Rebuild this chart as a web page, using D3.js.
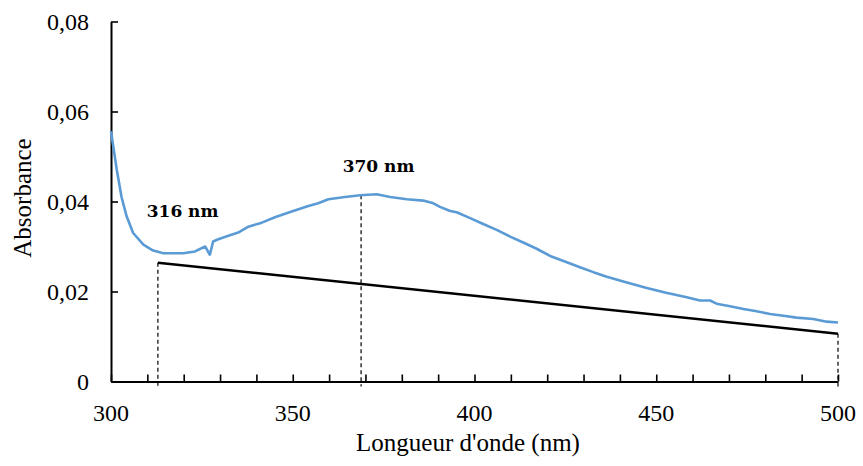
<!DOCTYPE html>
<html>
<head>
<meta charset="utf-8">
<script src="https://cdn.jsdelivr.net/npm/d3@7"></script>
<style>
  body { margin: 0; background: #fff; }
  svg { display: block; }
</style>
</head>
<body>
<script>
var w = 863;
var h = 466;

// spectre (nm, absorbance)
var wavelengths = [300, 301.6, 302.9, 304.3, 306.1, 308.9, 311.6, 314.4, 319.9, 323.1, 325.9, 326.4, 327.0, 327.2, 328.1, 329.5, 332.3, 335.0, 337.8, 341.5, 345.1, 349.7, 354.3, 357.0, 359.8, 364.4, 368.5, 373.1, 376.8, 381.4, 385.9, 388.7, 390.5, 393.3, 395.1, 398.8, 402.4, 406.1, 409.8, 413.4, 417.1, 420.8, 425.4, 429.0, 432.7, 436.4, 441.9, 447.4, 452.7, 458.4, 462.0, 464.8, 466.6, 470.3, 474.0, 477.6, 481.3, 485.0, 488.6, 493.2, 496.9, 500];
var absorbance = [0.0556, 0.0470, 0.0410, 0.0367, 0.0330, 0.0304, 0.0291, 0.0285, 0.0285, 0.0289, 0.0300, 0.0293, 0.0284, 0.0282, 0.0311, 0.0316, 0.0324, 0.0331, 0.0344, 0.0353, 0.0365, 0.0378, 0.0390, 0.0396, 0.0405, 0.0410, 0.0414, 0.0416, 0.0410, 0.0405, 0.0402, 0.0396, 0.0388, 0.0379, 0.0376, 0.0363, 0.0350, 0.0337, 0.0322, 0.0309, 0.0295, 0.0279, 0.0265, 0.0254, 0.0243, 0.0233, 0.0220, 0.0208, 0.0197, 0.0187, 0.0180, 0.0180, 0.0173, 0.0167, 0.0161, 0.0156, 0.0150, 0.0146, 0.0142, 0.0139, 0.0133, 0.0131];

// ligne de base
var baseX = [312.9, 500];
var baseY = [0.0264, 0.0106];

// repères en pointillés
var markX = [312.9, 368.8, 500];
var markY = [0.0264, 0.0414, 0.0106];
var peakLabels = [
  { text: "316 nm", x: 319.7, y: 0.0366 },
  { text: "370 nm", x: 373.6, y: 0.0466 }
];

var xTicks = [300, 350, 400, 450, 500];
var yTicks = [0, 0.02, 0.04, 0.06, 0.08];

var xScale = d3.scaleLinear().domain([300, 500]).range([111, 838]);
var yScale = d3.scaleLinear().domain([0, 0.08]).range([381.5, 21.5]);

var svg = d3.select("body").append("svg")
  .attr("width", w)
  .attr("height", h)
  .style("font-family", "'Liberation Serif', 'Times New Roman', serif");

// pointillés
svg.selectAll("line.mark")
  .data(markX)
  .enter()
  .append("line")
  .attr("class", "mark")
  .attr("x1", function(d) { return xScale(d); })
  .attr("x2", function(d) { return xScale(d); })
  .attr("y1", function(d, i) { return yScale(markY[i]); })
  .attr("y2", yScale(0) + 5)
  .attr("stroke", "#000")
  .attr("stroke-width", 1.2)
  .attr("stroke-dasharray", "4,3");

// axes
var xAxis = d3.axisBottom(xScale)
  .tickValues(d3.range(300, 501, 10))
  .tickSizeInner(-7)
  .tickSizeOuter(0)
  .tickFormat("");
svg.append("g")
  .attr("transform", "translate(0," + yScale(0) + ")")
  .call(xAxis)
  .call(function(g) {
    g.select(".domain").attr("stroke-width", 2);
    g.selectAll(".tick line").attr("stroke-width", 1.6);
  });

var yAxis = d3.axisLeft(yScale)
  .tickValues(yTicks)
  .tickSizeInner(-7)
  .tickSizeOuter(0)
  .tickFormat("");
svg.append("g")
  .attr("transform", "translate(" + xScale(300) + ",0)")
  .call(yAxis)
  .call(function(g) {
    g.select(".domain").attr("stroke-width", 2);
    g.selectAll(".tick line").attr("stroke-width", 1.6);
  });

// étiquettes des graduations
svg.selectAll("text.xt")
  .data(xTicks)
  .enter()
  .append("text")
  .attr("class", "xt")
  .attr("x", function(d) { return xScale(d); })
  .attr("y", 421)
  .attr("text-anchor", "middle")
  .attr("font-size", 24)
  .text(function(d) { return d; });

svg.selectAll("text.yt")
  .data(yTicks)
  .enter()
  .append("text")
  .attr("class", "yt")
  .attr("x", 89)
  .attr("y", function(d) { return yScale(d) + 8; })
  .attr("text-anchor", "end")
  .attr("font-size", 24)
  .text(function(d) { return d === 0 ? "0" : d.toFixed(2).replace(".", ","); });

// titres des axes
svg.append("text")
  .attr("x", 468)
  .attr("y", 451)
  .attr("text-anchor", "middle")
  .attr("font-size", 25)
  .text("Longueur d'onde (nm)");

svg.append("text")
  .attr("transform", "translate(31,198) rotate(-90)")
  .attr("text-anchor", "middle")
  .attr("font-size", 25)
  .text("Absorbance");

// ligne de base
var base = baseX.map(function(d, i) { return [d, baseY[i]]; });
svg.append("path")
  .datum(base)
  .attr("fill", "none")
  .attr("stroke", "#000")
  .attr("stroke-width", 2.5)
  .attr("d", d3.line()
    .x(function(d) { return xScale(d[0]); })
    .y(function(d) { return yScale(d[1]); }));

// spectre
var spectrum = wavelengths.map(function(d, i) { return [d, absorbance[i]]; });
svg.append("path")
  .datum(spectrum)
  .attr("fill", "none")
  .attr("stroke", "#5B9BD5")
  .attr("stroke-width", 2.6)
  .attr("stroke-linejoin", "round")
  .attr("d", d3.line()
    .x(function(d) { return xScale(d[0]); })
    .y(function(d) { return yScale(d[1]); }));

// étiquettes des pics
svg.selectAll("text.peak")
  .data(peakLabels)
  .enter()
  .append("text")
  .attr("class", "peak")
  .attr("x", function(d) { return xScale(d.x); })
  .attr("y", function(d) { return yScale(d.y); })
  .attr("text-anchor", "middle")
  .attr("font-family", "'DejaVu Serif', serif")
  .attr("font-weight", "bold")
  .attr("font-size", 17)
  .text(function(d) { return d.text; });
</script>
</body>
</html>
